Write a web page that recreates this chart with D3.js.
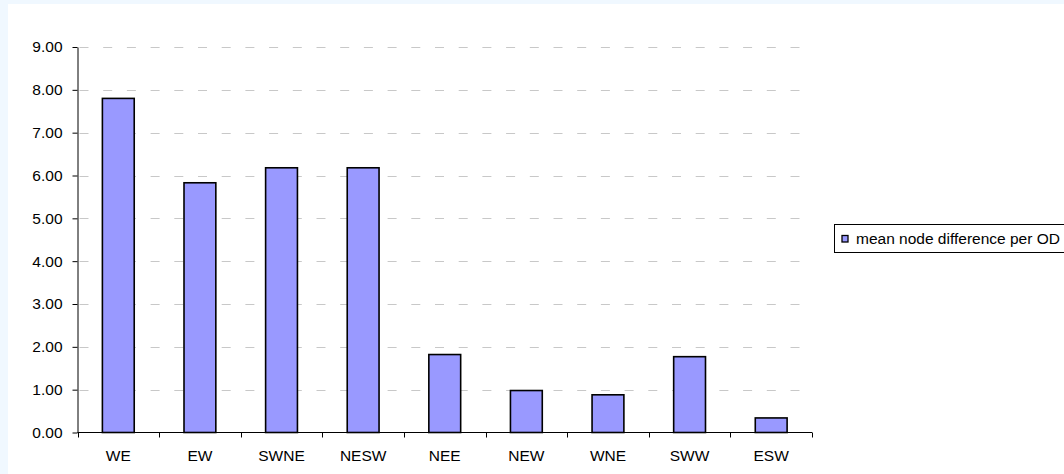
<!DOCTYPE html>
<html>
<head>
<meta charset="utf-8">
<script src="https://cdn.jsdelivr.net/npm/d3@7/dist/d3.min.js"></script>
<style>
  html, body { margin: 0; padding: 0; background: #f0f8ff; }
  svg { display: block; }
</style>
</head>
<body>
<svg id="chart" width="1064" height="474"></svg>
<script>
// Mean node difference per OD pair, by route direction
const categories = ["WE", "EW", "SWNE", "NESW", "NEE", "NEW", "WNE", "SWW", "ESW"];
const meanNodeDiff = [7.80, 5.83, 6.18, 6.18, 1.82, 0.98, 0.88, 1.77, 0.34];
const yTicks = [0, 1, 2, 3, 4, 5, 6, 7, 8, 9];
const seriesName = "mean node difference per OD";

const svg = d3.select("#chart");
const font = "'Liberation Sans', Arial, sans-serif";
const fontSize = 15.5;

// white plotting panel
svg.append("rect").attr("x", 8).attr("y", 4).attr("width", 1056).attr("height", 470).attr("fill", "#ffffff");

const plot = { left: 77.5, right: 812, top: 47, bottom: 432.5 };

const x = d3.scaleBand().domain(categories).range([plot.left, plot.right]).paddingInner(0.61).paddingOuter(0.305);
const y = d3.scaleLinear().domain([0, 9]).range([plot.bottom, plot.top]);

// dashed horizontal gridlines
svg.append("g")
  .selectAll("line")
  .data(yTicks.filter(d => d > 0))
  .join("line")
  .attr("x1", plot.left + 2).attr("x2", plot.right)
  .attr("y1", d => Math.round(y(d)) + 0.5).attr("y2", d => Math.round(y(d)) + 0.5)
  .attr("stroke", "#c8c8c8").attr("stroke-width", 1)
  .attr("stroke-dasharray", "9,14.7");

// bars
svg.append("g")
  .selectAll("rect")
  .data(categories.map((c, i) => ({ c, v: meanNodeDiff[i] })))
  .join("rect")
  .attr("x", d => x(d.c))
  .attr("y", d => y(d.v))
  .attr("width", x.bandwidth())
  .attr("height", d => y(0) - y(d.v))
  .attr("fill", "#9999ff")
  .attr("stroke", "#000000")
  .attr("stroke-width", 1.6);

// y axis
const yAxis = d3.axisLeft(y).tickValues(yTicks).tickFormat(d3.format(".2f")).tickSize(5).tickSizeOuter(0).tickPadding(10);
const gy = svg.append("g").attr("transform", `translate(${plot.left},0)`).call(yAxis);
gy.selectAll("text").attr("font-family", font).attr("font-size", fontSize).attr("fill", "#000");
gy.selectAll("line, path").attr("stroke", "#000");

// x axis with ticks between categories
const gx = svg.append("g").attr("transform", `translate(0,${plot.bottom})`);
gx.append("line").attr("x1", plot.left).attr("x2", plot.right).attr("y1", 0).attr("y2", 0).attr("stroke", "#000");
const boundaries = d3.range(categories.length + 1).map(i => plot.left + i * (plot.right - plot.left) / categories.length);
gx.selectAll("line.tick").data(boundaries).join("line").attr("class", "tick")
  .attr("x1", d => Math.round(d) + 0.5).attr("x2", d => Math.round(d) + 0.5)
  .attr("y1", 0).attr("y2", 5).attr("stroke", "#000");
gx.selectAll("text").data(categories).join("text")
  .attr("x", d => x(d) + x.bandwidth() / 2)
  .attr("y", 28.5)
  .attr("text-anchor", "middle")
  .attr("font-family", font).attr("font-size", fontSize).attr("fill", "#000")
  .text(d => d);

// legend
const lg = svg.append("g");
lg.append("rect").attr("x", 834.5).attr("y", 224.5).attr("width", 240).attr("height", 28)
  .attr("fill", "#fff").attr("stroke", "#000").attr("stroke-width", 1);
lg.append("rect").attr("x", 842).attr("y", 235.5).attr("width", 6).attr("height", 6.5)
  .attr("fill", "#9999ff").attr("stroke", "#000").attr("stroke-width", 1.3);
lg.append("text").attr("x", 856).attr("y", 244)
  .attr("font-family", font).attr("font-size", fontSize).attr("fill", "#000")
  .text(seriesName);
</script>
</body>
</html>
